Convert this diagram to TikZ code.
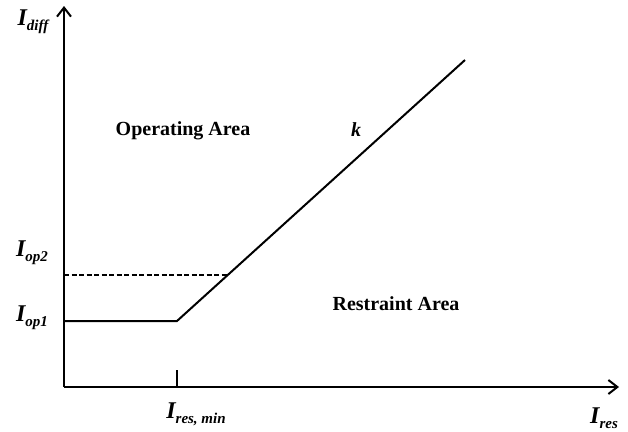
\documentclass[tikz,border=0pt]{standalone}
\usepackage{fontspec}
\setmainfont{Liberation Serif}
\usetikzlibrary{arrows.meta}
\newcommand{\subtxt}[1]{\raisebox{-0.45ex}{\fontsize{15}{16}\selectfont #1}}
\begin{document}
\begin{tikzpicture}[x=1pt,y=-1pt,
  axis/.style={line width=2.2pt,-{Straight Barb[length=9pt,width=14pt,line width=2pt]}},
  curve/.style={line width=2pt},
  lab/.style={font=\fontsize{20}{22}\selectfont\bfseries, inner sep=0pt},
  sym/.style={font=\fontsize{24}{26}\selectfont\bfseries\itshape, inner sep=0pt}]
\useasboundingbox (0,0) rectangle (628,431);
\coordinate (O) at (64,387);
\coordinate (ytop) at (64,6);
\coordinate (xend) at (619,387);
\coordinate (y1) at (64,321);
\coordinate (knee) at (177,321);
\coordinate (top) at (465,60);
\coordinate (y2) at (64,275);
\coordinate (cross) at (228,275);
\coordinate (tickt) at (177,370);
\coordinate (tickb) at (177,387);
\draw[axis] (O) -- (ytop);
\draw[axis] (O) -- (xend);
\draw[curve] (y1) -- (knee) -- (top);
\draw[line width=1.4pt, dash pattern=on 5pt off 2.5pt] (y2) -- (cross);
\draw[line width=1.6pt] (tickt) -- (tickb);
\node[sym] (Idiff) at (33,22) {I\subtxt{diff}};
\node[sym] (Iop2) at (32,253) {I\subtxt{op2}};
\node[sym] (Iop1) at (32,318) {I\subtxt{op1}};
\node[sym] (Iresmin) at (196,414) {I\subtxt{res, min}};
\node[sym] (Ires) at (604,418) {I\subtxt{res}};
\node[lab] (op) at (183,131) {Operating Area};
\node[lab, font=\fontsize{20}{22}\selectfont\bfseries\itshape] (k) at (356,130) {k};
\node[lab] (re) at (396,304) {Restraint Area};
\end{tikzpicture}
\end{document}
